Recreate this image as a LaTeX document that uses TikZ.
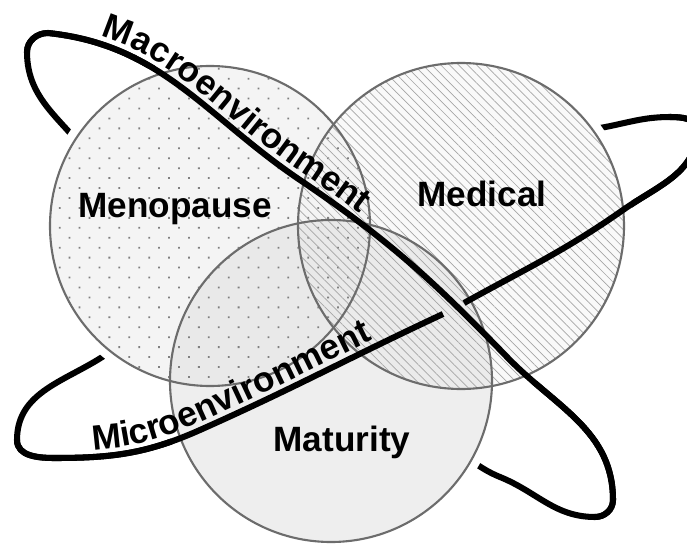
\documentclass[tikz,border=0pt]{standalone}
\usepackage{fontspec}
\setmainfont{Liberation Sans}
\usetikzlibrary{patterns.meta,decorations.text}

\begin{document}
\begin{tikzpicture}[x=0.025cm,y=0.025cm]
\tikzstyle{band}=[line width=4.3pt,black]
\tikzstyle{halo}=[fill=white,draw=white,line width=13pt]
\tikzstyle{rim}=[draw=gray!85!black,line width=1.5pt]
\tikzstyle{lbl}=[font=\fontsize{25}{30}\selectfont\bfseries,inner sep=0pt,anchor=base]
\useasboundingbox (0,0) rectangle (687,-546);
\clip (0,0) rectangle (687,-546);
\coordinate (meno) at (210,-226);
\coordinate (medi) at (461,-226);
\coordinate (matu) at (331,-381);
% back parts of the two bands
\draw[band] (95,-165) to[out=122,in=-90] (27,-52) to[out=90,in=180] (48,-33)
  to[out=-6,in=146] (300,-180) to[out=-34,in=134] (507,-357)
  to[out=-46,in=90] (613,-500) to[out=-90,in=0] (595,-517)
  to[out=180,in=-22] (500,-477) to[out=158,in=-25] (455,-452);
\draw[band] (115,-348) to[out=218,in=90] (17,-440) to[out=-90,in=180] (55,-458)
  to[out=0,in=204] (200,-430) to[out=24,in=205] (443,-314) to[out=25,in=209] (464,-303)
  to[out=29,in=215] (623,-210) to[out=35,in=-90] (697,-130) to[out=90,in=0] (670,-117)
  to[out=180,in=10] (600,-128) to[out=190,in=10] (580,-132);
% circles
\path[halo] (meno) circle[radius=160];
\path[halo] (medi) circle[radius=163];
\path[halo] (matu) circle[radius=161];
\fill[gray!14,fill opacity=.6] (meno) circle[radius=160];
\fill[gray!8,fill opacity=.6] (medi) circle[radius=163];
\fill[gray!22,fill opacity=.6] (matu) circle[radius=161];
\fill[pattern={Dots[radius=0.9pt,distance=10pt,angle=45]},pattern color=gray] (meno) circle[radius=160];
\fill[pattern={Lines[angle=-45,distance=4.5pt,line width=0.5pt]},pattern color=gray!70] (medi) circle[radius=163];
\draw[rim] (meno) circle[radius=160];
\draw[rim] (medi) circle[radius=163];
\draw[rim] (matu) circle[radius=161];
% front parts
\draw[band] (17,-440) to[out=-90,in=180] (55,-458) to[out=0,in=204] (200,-430)
  to[out=24,in=205] (443,-314);
\draw[band] (464,-303) to[out=29,in=215] (623,-210) to[out=35,in=-90] (697,-130)
  to[out=90,in=0] (670,-117);
\draw[band] (27,-52) to[out=90,in=180] (48,-33) to[out=-6,in=146] (300,-180)
  to[out=-34,in=134] (507,-357) to[out=-46,in=90] (613,-500) to[out=-90,in=0] (595,-517);
% band labels
\path[decorate,decoration={text along path,raise=5pt,text align={left indent=36pt},
  text={|\fontsize{25}{30}\selectfont\bfseries|Macroenvironment}}]
  (48,-33) to[out=-6,in=146] (300,-180) to[out=-34,in=134] (507,-357);
\path[decorate,decoration={text along path,raise=5pt,text align={left indent=28pt},
  text={|\fontsize{25}{30}\selectfont\bfseries|Microenvironment}}]
  (55,-458) to[out=0,in=204] (200,-430) to[out=24,in=205] (443,-314) to[out=25,in=209] (464,-303)
  to[out=29,in=215] (623,-210);
% circle labels
\node[lbl] (menolbl) at (175,-217) {Menopause};
\node[lbl] (medilbl) at (482,-206) {Medical};
\node[lbl] (matulbl) at (342,-451) {Maturity};
\end{tikzpicture}
\end{document}
